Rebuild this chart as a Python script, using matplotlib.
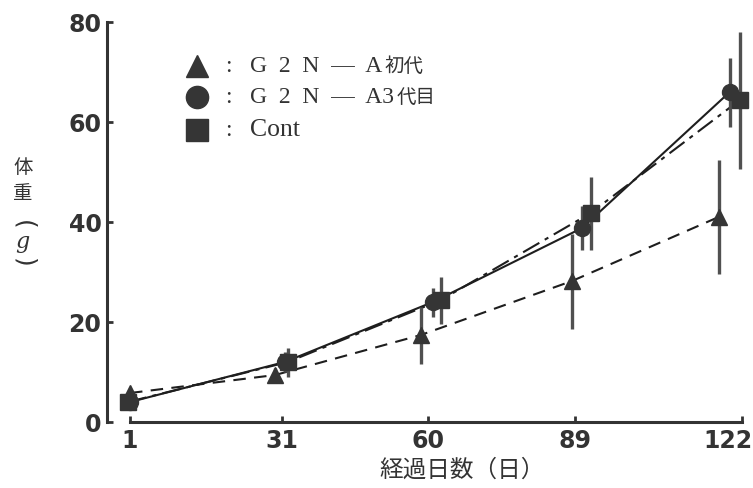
# %%
import matplotlib.pyplot as plt
from matplotlib.transforms import ScaledTranslation

plt.rcParams['font.family'] = ['DejaVu Sans', 'Noto Sans CJK JP']

days = [1, 31, 60, 89, 122]
yticks = [0, 20, 40, 60, 80]

# G2N-A 初代 (triangles, dashed)
x_g1 = [1, 29.7, 58.5, 88.4, 117.4]
w_g1 = [5.8, 9.4, 17.4, 28.2, 41.0]
sd_g1 = [0, 1.5, 5.7, 9.5, 11.4]

# G2N-A 3代目 (circles, solid)
x_g3 = [1, 31.6, 60.9, 90.4, 119.6]
w_g3 = [4.0, 12.0, 24.0, 38.8, 66.0]
sd_g3 = [0, 2.0, 2.9, 4.4, 6.9]

# Cont (squares, dash-dot)
x_ct = [0.6, 32.2, 62.5, 92.1, 121.6]
w_ct = [4.0, 12.0, 24.4, 41.8, 64.4]
sd_ct = [0, 2.9, 4.7, 7.3, 13.7]

# legend text: latin part in serif, kanji part after it
lab_latin = ['G  2  N  —  A', 'G  2  N  —  A3', 'Cont']
lab_kanji = ['初代', '代目', '']

# %%
fig = plt.figure(figsize=(7.53, 4.88), dpi=100)
ax = fig.add_axes([0.1421, 0.1352, 0.8579, 0.8197])
ax.set_xlim(-3.55, 124.2)
ax.set_ylim(0, 80)

series = [
    (x_g1, w_g1, sd_g1, '^', (0, (6, 4))),
    (x_g3, w_g3, sd_g3, 'o', '-'),
    (x_ct, w_ct, sd_ct, 's', (0, (9, 3, 2, 3))),
]
for x, w, sd, m, ls in series:
    ax.plot(x, w, color='#1e1e1e', lw=1.5, ls=ls, zorder=2)
    ax.errorbar(x, w, yerr=sd, fmt='none', ecolor='#505050',
                elinewidth=2.4, capsize=0, zorder=3, clip_on=False)
    ax.plot(x, w, m, ms=11.5, color='#353535', zorder=4, clip_on=False)

# legend drawn by hand
leg_y = [0.89, 0.8125, 0.73]
for (x, w, sd, m, ls), lat, kan, yy in zip(series, lab_latin, lab_kanji, leg_y):
    ax.plot([0.139], [yy], m, ms=16, color='#353535', transform=ax.transAxes)
    ax.text(0.183, yy, ':', transform=ax.transAxes, fontsize=17,
            va='center', color='#333333', family='Liberation Serif')
    t = ax.text(0.221, yy, lat, transform=ax.transAxes,
                fontsize=17 if kan else 18.5,
                va='center', color='#333333', family='Liberation Serif')
    if kan:
        ax.annotate(kan, xy=(1, 0.5), xycoords=t, xytext=(2, 0),
                    textcoords='offset points', va='center', ha='left',
                    fontsize=14, color='#333333', family='Noto Sans CJK JP')

# axes
for s in ['top', 'right']:
    ax.spines[s].set_visible(False)
ax.spines['left'].set_bounds(0, 80)
ax.spines['bottom'].set_bounds(1, 122)
for s in ['left', 'bottom']:
    ax.spines[s].set_linewidth(2.2)
    ax.spines[s].set_color('#333333')

ax.set_xticks(days)
ax.set_xticklabels([str(d) for d in days], fontweight='bold')
ax.set_yticks(yticks)
ax.set_yticklabels([str(v) for v in yticks], fontweight='bold')
ax.tick_params(direction='in', length=4, width=2, colors='#333333',
               labelsize=17)
ax.tick_params(axis='y', pad=4)
ax.tick_params(axis='x', pad=5)
# last label sits against the right edge
last = ax.get_xticklabels()[-1]
last.set_transform(last.get_transform() + ScaledTranslation(-0.14, 0, fig.dpi_scale_trans))

ax.set_xlabel('経過日数（日）', family='Noto Sans CJK JP', fontsize=17,
              color='#333333', va='center')
ax.xaxis.set_label_coords(0.55, -0.12)

# vertical y label
ylab = ['体', '重', '(', 'g', ')']
ylab_y = [0.6375, 0.5725, 0.4925, 0.45, 0.3975]
for ch, yy in zip(ylab, ylab_y):
    if ch == 'g':
        ax.text(-0.131, yy, ch, transform=ax.transAxes, fontsize=16,
                style='italic', family='DejaVu Serif', ha='center',
                va='center', color='#333333')
    elif ch in '()':
        ax.text(-0.130, yy, ch, transform=ax.transAxes, fontsize=18,
                rotation=270, family='DejaVu Sans', ha='center',
                va='center', color='#333333')
    else:
        ax.text(-0.130, yy, ch, transform=ax.transAxes, fontsize=14,
                family='Noto Sans CJK JP', ha='center', va='center',
                color='#333333')

fig.savefig('out.png', dpi=100)
